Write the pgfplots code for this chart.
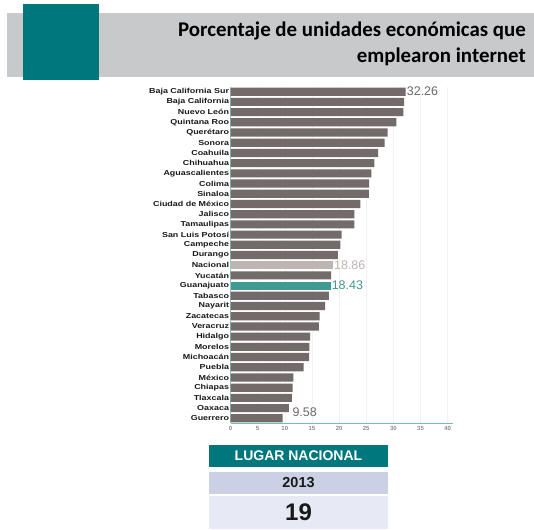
\documentclass[border=0pt]{standalone}
\usepackage{pgfplots}
\pgfplotsset{compat=1.18}
\usepackage{fontspec}
\setmainfont{Liberation Sans}
\newfontfamily\calibri{Carlito}
\definecolor{headgray}{HTML}{C8C9CB}
\definecolor{tealsq}{HTML}{00777C}
\definecolor{barGray}{HTML}{736B69}
\definecolor{barNac}{HTML}{BDB5B2}
\definecolor{barGto}{HTML}{3F9A93}
\definecolor{axisteal}{HTML}{76BDB5}
\definecolor{valgray}{HTML}{6E6868}
\definecolor{rowtwo}{HTML}{CBD1E5}
\definecolor{rowthree}{HTML}{E7E9F4}
\begin{document}
\begin{tikzpicture}[x=1pt,y=1pt]
\useasboundingbox (0,0) rectangle (534,529);
\fill[white] (0,0) rectangle (534,529);
\fill[headgray] (7,452) rectangle (534,516);
\fill[tealsq] (23,449) rectangle (99,525);
\node[anchor=base east, inner sep=0pt, font=\calibri\bfseries\fontsize{20.9}{22}\selectfont] at (526,492.3) {Porcentaje de unidades económicas que};
\node[anchor=base east, inner sep=0pt, font=\calibri\bfseries\fontsize{20.9}{22}\selectfont] at (526,466) {emplearon internet};
\begin{axis}[
  at={(230.5pt,105.6pt)}, anchor=south west,
  scale only axis, width=222.6pt, height=336.8pt,
  xmin=0, xmax=41, ymin=-0.5, ymax=32.5,
  xbar, bar width=0.8, bar shift=0pt,
  clip=false,
  axis x line*=bottom, axis y line*=left,
  x axis line style={color=axisteal, line width=1.6pt, -},
  y axis line style={color=axisteal!80, line width=0.6pt, -},
  major tick length=0pt,
  xtick={0,5,...,40},
  xmajorgrids, grid style={color=black!5, line width=0.4pt},
  xticklabel style={font=\bfseries\fontsize{6}{6}\selectfont, text=black!45, inner sep=1pt, yshift=-2pt},
  /pgf/number format/assume math mode=true,
  ytick={0,...,32},
  yticklabels={Guerrero,Oaxaca,Tlaxcala,Chiapas,México,Puebla,Michoacán,Morelos,Hidalgo,Veracruz,Zacatecas,Nayarit,Tabasco,Guanajuato,Yucatán,Nacional,Durango,Campeche,San Luis Potosí,Tamaulipas,Jalisco,Ciudad de México,Sinaloa,Colima,Aguascalientes,Chihuahua,Coahuila,Sonora,Querétaro,Quintana Roo,Nuevo León,Baja California,Baja California Sur},
  yticklabel style={font=\bfseries\fontsize{7.2}{7.2}\selectfont, text=black!90, inner sep=1pt, xscale=1.24},
]
\addplot[fill=barGray, draw=none] coordinates {
(9.58,0) (10.76,1) (11.30,2) (11.43,3) (11.56,4) (13.46,5) (14.49,6) (14.54,7) (14.67,8) (16.29,9) (16.41,10) (17.42,11) (18.14,12) (18.52,14) (19.76,16) (20.25,17) (20.48,18) (22.80,19) (22.82,20) (23.90,21) (25.47,22) (25.52,23) (25.95,24) (26.49,25) (27.21,26) (28.40,27) (28.94,28) (30.56,29) (31.82,30) (32.00,31) (32.26,32)};
\addplot[fill=barGto, draw=none] coordinates {(18.43,13)};
\addplot[fill=barNac, draw=none] coordinates {(18.86,15)};
\node[anchor=west, inner sep=1pt, text=valgray, font=\fontsize{12.5}{12.5}\selectfont] at (axis cs:32.26,32) {32.26};
\node[anchor=west, inner sep=1pt, text=barNac, font=\fontsize{12.5}{12.5}\selectfont] at (axis cs:18.86,15) {18.86};
\node[anchor=west, inner sep=1pt, text=barGto, font=\fontsize{12.5}{12.5}\selectfont] at (axis cs:18.43,13) {18.43};
\node[anchor=west, inner sep=1pt, text=valgray, font=\fontsize{12.5}{12.5}\selectfont] at (axis cs:11.2,0.55) {9.58};
\end{axis}
\fill[tealsq] (209,62) rectangle (388,84);
\node[text=white, font=\bfseries\fontsize{14}{14}\selectfont] at (298.5,73) {LUGAR NACIONAL};
\fill[rowtwo] (209,35) rectangle (388,57.3);
\node[text=black!90, font=\bfseries\fontsize{14.5}{14.5}\selectfont] at (298.5,46.5) {2013};
\fill[rowthree] (209,0) rectangle (388,33.5);
\node[text=black!90, font=\bfseries\fontsize{24}{24}\selectfont] at (298.5,16.5) {19};
\end{tikzpicture}
\end{document}
